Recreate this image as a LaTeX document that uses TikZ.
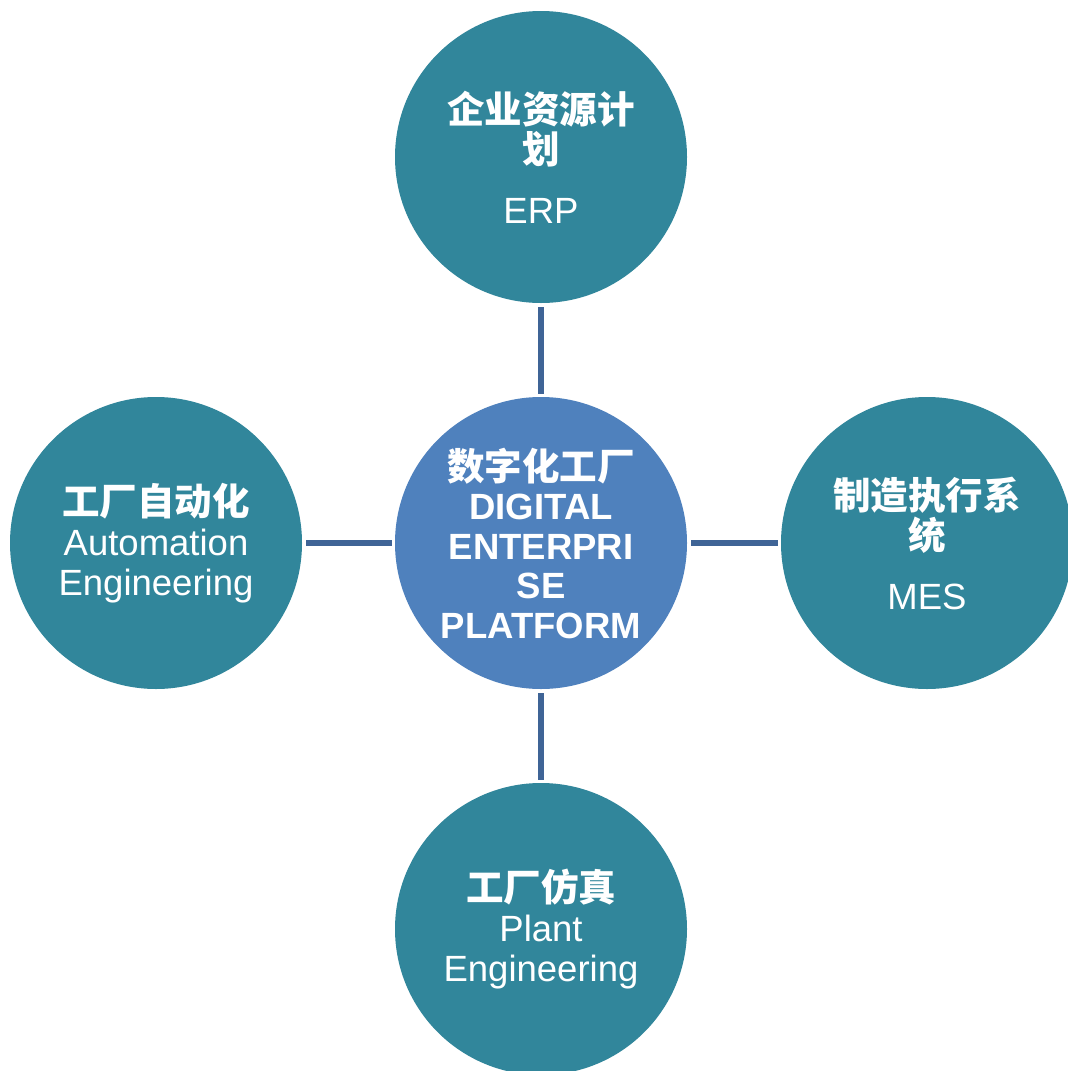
\documentclass[tikz,border=0pt]{standalone}
\usepackage{fontspec}
\setmainfont{Liberation Sans}
\newfontfamily\cjk{Noto Sans CJK SC}
\definecolor{teal}{HTML}{31869B}
\definecolor{hubblue}{HTML}{4F81BD}
\definecolor{linkblue}{HTML}{3F6496}
\newcommand{\zh}[1]{{\cjk\bfseries\fontsize{37.5}{40}\selectfont #1}}
\tikzset{
  part/.style={circle, fill=teal, minimum size=292pt, inner sep=0pt, text=white,
    align=center, font=\fontsize{36.5}{40}\selectfont},
  hub/.style={part, fill=hubblue, font=\fontsize{36.5}{39.5}\selectfont\bfseries},
  link/.style={draw=linkblue, line width=6pt, shorten <=4pt, shorten >=3pt}
}
\begin{document}
\begin{tikzpicture}[x=1pt,y=-1pt]
\clip (0,0) rectangle (1068,1071);
\fill[white] (0,0) rectangle (1068,1071);
\node[hub] (hub) at (541,543) {\zh{数字化工厂}\\DIGITAL\\ENTERPRI\\SE\\PLATFORM};
\node[part] (erp) at (541,157) {\zh{企业资源计}\\\zh{划}\\[20pt]ERP};
\node[part] (auto) at (156,543) {\zh{工厂自动化}\\Automation\\Engineering};
\node[part] (mes) at (927,543) {\zh{制造执行系}\\\zh{统}\\[20pt]MES};
\node[part] (plant) at (541,929) {\zh{工厂仿真}\\Plant\\Engineering};
\draw[link] (erp) -- (hub);
\draw[link] (auto) -- (hub);
\draw[link] (hub) -- (mes);
\draw[link] (hub) -- (plant);
\end{tikzpicture}
\end{document}
